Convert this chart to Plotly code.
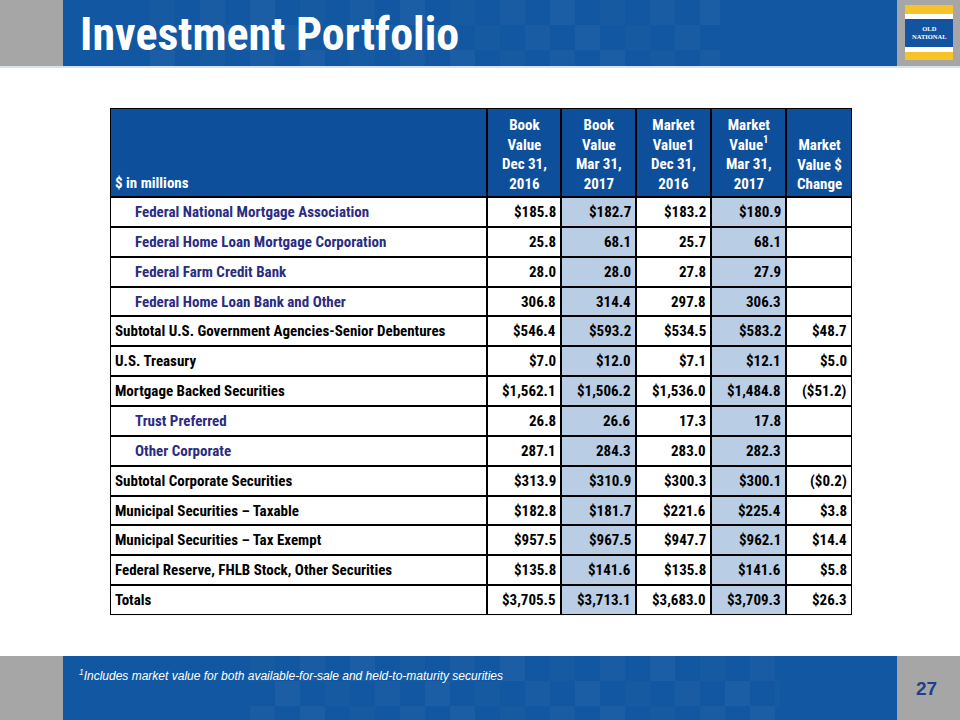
import plotly.graph_objects as go

# ---------------- data ----------------
categories = [
    "Federal National Mortgage Association",
    "Federal Home Loan Mortgage Corporation",
    "Federal Farm Credit Bank",
    "Federal Home Loan Bank and Other",
    "Subtotal U.S. Government Agencies-Senior Debentures",
    "U.S. Treasury",
    "Mortgage Backed Securities",
    "Trust Preferred",
    "Other Corporate",
    "Subtotal Corporate Securities",
    "Municipal Securities \u2013 Taxable",
    "Municipal Securities \u2013 Tax Exempt",
    "Federal Reserve, FHLB Stock, Other Securities",
    "Totals",
]
indented = [True, True, True, True, False, False, False, True, True, False, False, False, False, False]
show_dollar = [True, False, False, False, True, True, True, False, False, True, True, True, True, True]

book_dec16 = [185.8, 25.8, 28.0, 306.8, 546.4, 7.0, 1562.1, 26.8, 287.1, 313.9, 182.8, 957.5, 135.8, 3705.5]
book_mar17 = [182.7, 68.1, 28.0, 314.4, 593.2, 12.0, 1506.2, 26.6, 284.3, 310.9, 181.7, 967.5, 141.6, 3713.1]
mkt_dec16 = [183.2, 25.7, 27.8, 297.8, 534.5, 7.1, 1536.0, 17.3, 283.0, 300.3, 221.6, 947.7, 135.8, 3683.0]
mkt_mar17 = [180.9, 68.1, 27.9, 306.3, 583.2, 12.1, 1484.8, 17.8, 282.3, 300.1, 225.4, 962.1, 141.6, 3709.3]
mkt_change = [None, None, None, None, 48.7, 5.0, -51.2, None, None, -0.2, 3.8, 14.4, 5.8, 26.3]

header_labels = [
    "$ in millions",
    "Book<br>Value<br>Dec 31,<br>2016",
    "Book<br>Value<br>Mar 31,<br>2017",
    "Market<br>Value1<br>Dec 31,<br>2016",
    "Market<br>Value<sup>1</sup><br>Mar 31,<br>2017",
    "Market<br>Value $<br>Change",
]
shaded_columns = [False, False, True, False, True, False]

title = "Investment Portfolio"
footnote = "<sup>1</sup>Includes market value for both available-for-sale and held-to-maturity securities"
page_no = "27"


def fmt(v, dollar):
    if v is None:
        return ""
    s = f"{abs(v):,.1f}"
    if dollar:
        s = "$" + s
    if v < 0:
        s = "(" + s + ")"
    return s


# ---------------- styling / geometry ----------------
W, H = 960, 720
FONT = "Liberation Sans Narrow, Arial Narrow, Roboto Condensed, Liberation Sans, Arial, sans-serif"
NAVY = "#2B2C80"
HDR_BLUE = "#0E4F9C"
SHADE = "#B9CDE5"
BAR_BLUE = "#1257A1"
GRAY = "#A6A6A6"

col_widths = [377, 74, 75, 75, 75, 66]
hdr_h = 89
row_h = 29.86
tbl_left, tbl_top = 110, 108

x_edges = [0]
for w in col_widths:
    x_edges.append(x_edges[-1] + w)
y_edges = [0, hdr_h]
for _ in categories:
    y_edges.append(y_edges[-1] + row_h)
tbl_w = x_edges[-1]
tbl_h = y_edges[-1]

# cell fill codes: 2 = header, 1 = shaded, 0 = white
z = [[2] * len(col_widths)]
for _ in categories:
    z.append([1 if s else 0 for s in shaded_columns])


def px_x(x):
    return x / W


def px_y(y):
    return 1 - y / H


fig = go.Figure()
fig.add_trace(go.Heatmap(
    x=x_edges, y=y_edges, z=z,
    zmin=0, zmax=2,
    colorscale=[[0, "white"], [0.33, "white"], [0.33, SHADE], [0.66, SHADE], [0.66, HDR_BLUE], [1, HDR_BLUE]],
    showscale=False, xgap=2, ygap=2, hoverinfo="skip",
))

annotations = []
# header texts
for j, lab in enumerate(header_labels):
    if j == 0:
        annotations.append(dict(text="<b>" + lab + "</b>", x=x_edges[0] + 3, y=hdr_h - 3,
                                xanchor="left", yanchor="bottom"))
    else:
        annotations.append(dict(text="<b>" + lab + "</b>", x=(x_edges[j] + x_edges[j + 1]) / 2,
                                y=hdr_h - 2, xanchor="center", yanchor="bottom"))
for a in annotations:
    a.update(xref="x", yref="y", showarrow=False, align="center",
             font=dict(family=FONT, size=15, color="white"))

value_cols = [
    [fmt(v, d) for v, d in zip(book_dec16, show_dollar)],
    [fmt(v, d) for v, d in zip(book_mar17, show_dollar)],
    [fmt(v, d) for v, d in zip(mkt_dec16, show_dollar)],
    [fmt(v, d) for v, d in zip(mkt_mar17, show_dollar)],
    [fmt(v, True) for v in mkt_change],
]

for i, cat in enumerate(categories):
    yc = (y_edges[i + 1] + y_edges[i + 2]) / 2
    annotations.append(dict(
        text="<b>" + cat + "</b>", x=x_edges[0] + (23 if indented[i] else 3), y=yc,
        xref="x", yref="y", xanchor="left", yanchor="middle", showarrow=False,
        font=dict(family=FONT, size=15, color=NAVY if indented[i] else "black")))
    for j, col in enumerate(value_cols):
        if col[i] == "":
            continue
        annotations.append(dict(
            text="<b>" + col[i] + "</b>", x=x_edges[j + 2] - 3, y=yc,
            xref="x", yref="y", xanchor="right", yanchor="middle", showarrow=False,
            font=dict(family=FONT, size=15, color="black")))

shapes = []


def rect(x0, y0, x1, y1, color):
    shapes.append(dict(type="rect", xref="paper", yref="paper",
                       x0=px_x(x0), x1=px_x(x1), y0=px_y(y1), y1=px_y(y0),
                       fillcolor=color, line=dict(width=0), layer="below"))


def checker(x0, x1, y0, y1, size):
    # subtle light squares decorating the slide bars
    k = 0
    y = y0
    r = 0
    while y < y1:
        x = x0 + (size if r % 2 else 0)
        while x < x1:
            op = 0.02 + 0.012 * ((k * 7) % 3)
            rect(x, y, min(x + size, x1), min(y + size, y1), f"rgba(255,255,255,{op:.3f})")
            x += 2 * size
            k += 1
        y += size
        r += 1


# top bar
rect(0, 0, 63, 66, GRAY)
rect(63, 0, 897, 66, BAR_BLUE)
checker(150, 720, 0, 66, 25)
rect(897, 0, 960, 66, GRAY)
rect(0, 66, 960, 68, "#D6E2F0")
# logo
rect(905, 5, 953, 60, "#F6C328")
rect(905, 14, 953, 19, "white")
rect(905, 19, 953, 47, "#1453A0")
rect(905, 47, 953, 52, "white")
# bottom bar
rect(0, 656, 63, 720, GRAY)
rect(63, 656, 897, 720, BAR_BLUE)
checker(250, 780, 656, 720, 25)
rect(897, 656, 960, 720, GRAY)
# table outer border
shapes.append(dict(type="rect", xref="x", yref="y", x0=0, x1=tbl_w, y0=0, y1=tbl_h,
                   line=dict(color="black", width=2), fillcolor="rgba(0,0,0,0)", layer="above"))

annotations += [
    dict(text="<b>" + title + "</b>", x=px_x(78), y=px_y(34), xref="paper", yref="paper",
         xanchor="left", yanchor="middle", showarrow=False,
         font=dict(family=FONT, size=46, color="white")),
    dict(text="<b>OLD<br>NATIONAL</b>", x=px_x(929), y=px_y(33), xref="paper", yref="paper",
         xanchor="center", yanchor="middle", showarrow=False,
         font=dict(family="Liberation Serif, DejaVu Serif, serif", size=6.5, color="white")),
    dict(text="<i>" + footnote + "</i>", x=px_x(77), y=px_y(675), xref="paper", yref="paper",
         xanchor="left", yanchor="middle", showarrow=False,
         font=dict(family="Liberation Sans, Arial, sans-serif", size=12, color="white")),
    dict(text="<b>" + page_no + "</b>", x=px_x(926), y=px_y(688), xref="paper", yref="paper",
         xanchor="center", yanchor="middle", showarrow=False,
         font=dict(family="Liberation Sans, Arial, sans-serif", size=19, color="#1F3F8F")),
]

fig.update_layout(
    width=W, height=H,
    margin=dict(l=0, r=0, t=0, b=0),
    paper_bgcolor="white",
    plot_bgcolor="black",
    shapes=shapes,
    annotations=annotations,
    showlegend=False,
    xaxis=dict(domain=[px_x(tbl_left), px_x(tbl_left + tbl_w)], range=[0, tbl_w],
               visible=False, fixedrange=True),
    yaxis=dict(domain=[px_y(tbl_top + tbl_h), px_y(tbl_top)], range=[tbl_h, 0],
               visible=False, fixedrange=True),
)

fig.write_html("out.html", config={"displayModeBar": False},
               post_script="document.body.style.margin='0px';document.body.style.overflow='hidden';")
